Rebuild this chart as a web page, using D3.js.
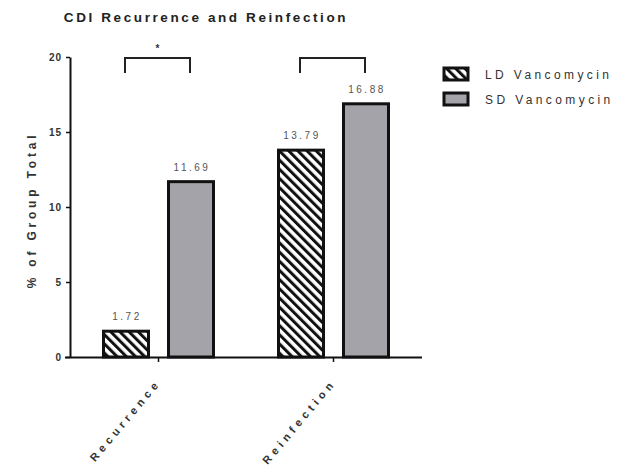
<!DOCTYPE html>
<html>
<head>
<meta charset="utf-8">
<script src="https://cdn.jsdelivr.net/npm/d3@7"></script>
<style>
  body { margin: 0; background: #fff; }
  text { font-family: "Liberation Sans", Arial, sans-serif; }
</style>
</head>
<body>
<svg id="chart" width="621" height="471"></svg>
<script>
const categories = ["Recurrence", "Reinfection"];
const seriesNames = ["LD Vancomycin", "SD Vancomycin"];
const ldValues = [1.72, 13.79];
const sdValues = [11.69, 16.88];
const valueLabels = [["1.72", "11.69"], ["13.79", "16.88"]];
const yTicks = [0, 5, 10, 15, 20];
const sigMarks = ["*", ""];

const svg = d3.select("#chart");

const x0 = 70, yTop = 57, yBottom = 357;

const x = d3.scaleBand().domain(categories).range([71, 421]).paddingInner(0).paddingOuter(0);
const xs = d3.scaleBand().domain(seriesNames).range([0, x.bandwidth()]).paddingInner(0.308).paddingOuter(0.5);
const y = d3.scaleLinear().domain([0, 20]).range([yBottom, yTop]);

// hatch pattern
const defs = svg.append("defs");
const pat = defs.append("pattern")
  .attr("id", "hatch")
  .attr("patternUnits", "userSpaceOnUse")
  .attr("width", 6.5).attr("height", 6.5)
  .attr("patternTransform", "rotate(-45)");
pat.append("rect").attr("width", 6.5).attr("height", 6.5).attr("fill", "#fff");
pat.append("rect").attr("x", 0).attr("width", 3).attr("height", 6.5).attr("fill", "#111");

const fills = ["url(#hatch)", "#a3a3a9"];

// title
svg.append("text")
  .attr("x", 206).attr("y", 22)
  .attr("text-anchor", "middle")
  .attr("font-size", 13.5).attr("font-weight", "bold")
  .attr("letter-spacing", 2.6)
  .attr("fill", "#222")
  .text("CDI Recurrence and Reinfection");

// y axis
const yAxis = svg.append("g")
  .attr("transform", `translate(${x0},0)`)
  .call(d3.axisLeft(y).tickValues(yTicks).tickSize(4).tickSizeOuter(0));
yAxis.select(".domain").attr("stroke", "#111").attr("stroke-width", 2);
yAxis.selectAll(".tick line").attr("stroke", "#111").attr("stroke-width", 1.5);
yAxis.selectAll(".tick text").attr("font-size", 10).attr("fill", "#333").attr("font-weight", "bold")
  .attr("letter-spacing", 1).attr("x", -8);

// y label
svg.append("text")
  .attr("transform", "translate(36,210) rotate(-90)")
  .attr("text-anchor", "middle")
  .attr("font-size", 12).attr("font-weight", "bold")
  .attr("letter-spacing", 3.8)
  .attr("fill", "#333")
  .text("% of Group Total");

// bars
const rows = categories.map((c, i) => ({ cat: c, vals: [ldValues[i], sdValues[i]], labels: valueLabels[i] }));

const groups = svg.selectAll("g.grp").data(rows).enter().append("g")
  .attr("class", "grp")
  .attr("transform", d => `translate(${x(d.cat)},0)`);

groups.selectAll("rect").data(d => d.vals.map((v, j) => ({ s: seriesNames[j], v, j })))
  .enter().append("rect")
  .attr("x", d => xs(d.s))
  .attr("y", d => y(d.v))
  .attr("width", xs.bandwidth())
  .attr("height", d => y(0) - y(d.v))
  .attr("fill", d => fills[d.j])
  .attr("stroke", "#111")
  .attr("stroke-width", 3);

groups.selectAll("text.val").data(d => d.vals.map((v, j) => ({ s: seriesNames[j], v, lab: d.labels[j] })))
  .enter().append("text")
  .attr("class", "val")
  .attr("x", d => xs(d.s) + xs.bandwidth() / 2 + 1)
  .attr("y", d => y(d.v) - 11)
  .attr("text-anchor", "middle")
  .attr("font-size", 10)
  .attr("letter-spacing", 2.5)
  .attr("fill", "#555")
  .text(d => d.lab);

// x axis
const xAxis = svg.append("g")
  .attr("transform", `translate(0,${yBottom})`)
  .call(d3.axisBottom(x).tickSize(5).tickSizeOuter(0));
xAxis.select(".domain").attr("stroke", "#111").attr("stroke-width", 2).attr("d", `M65,0.5H422`);
xAxis.selectAll(".tick line").attr("stroke", "#111").attr("stroke-width", 1.5);
xAxis.selectAll(".tick text")
  .attr("font-size", 11).attr("font-weight", "bold")
  .attr("letter-spacing", 4.3)
  .attr("fill", "#333")
  .attr("text-anchor", "end")
  .attr("dy", 0).attr("y", 0)
  .attr("transform", "translate(3,26) rotate(-50)");

// significance brackets
rows.forEach((d, i) => {
  const left = x(d.cat) + xs(seriesNames[0]) + xs.bandwidth() / 2 - 1;
  const right = x(d.cat) + xs(seriesNames[1]) + xs.bandwidth() / 2 - 1;
  svg.append("path")
    .attr("d", `M${left},73V58H${right}V73`)
    .attr("fill", "none")
    .attr("stroke", "#222")
    .attr("stroke-width", 2);
  if (sigMarks[i]) {
    svg.append("text")
      .attr("x", (left + right) / 2).attr("y", 52)
      .attr("text-anchor", "middle")
      .attr("font-size", 10).attr("font-weight", "bold")
      .attr("fill", "#333")
      .text(sigMarks[i]);
  }
});

// legend
const legend = svg.append("g").attr("transform", "translate(444,68)");
seriesNames.forEach((s, i) => {
  const g = legend.append("g").attr("transform", `translate(0,${i * 25})`);
  g.append("rect")
    .attr("width", 24).attr("height", 12)
    .attr("fill", fills[i])
    .attr("stroke", "#111").attr("stroke-width", 3);
  g.append("text")
    .attr("x", 41).attr("y", 11)
    .attr("font-size", 12)
    .attr("letter-spacing", 3.4)
    .attr("fill", "#333")
    .text(s);
});
</script>
</body>
</html>
